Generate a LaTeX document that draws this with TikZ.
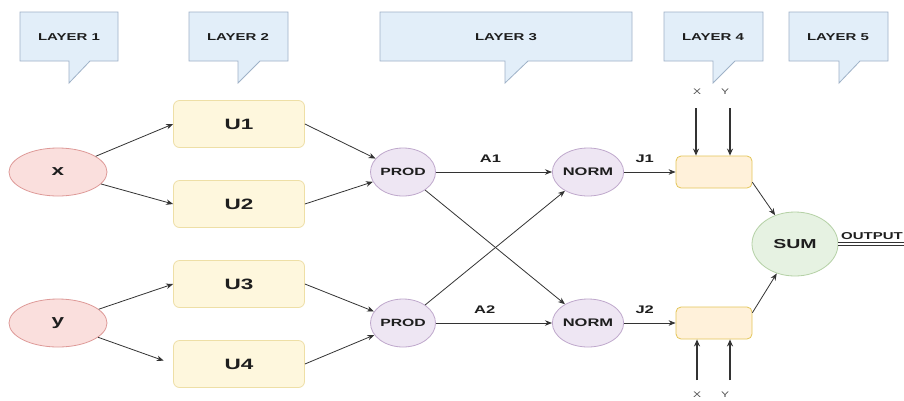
\documentclass[tikz,border=0pt]{standalone}
\usepackage{fontspec}
\setmainfont{Liberation Sans}
\newfontfamily\wb[FakeStretch=1.5]{Liberation Sans Bold}
\newfontfamily\wn[FakeStretch=1.5]{Liberation Sans}
\usetikzlibrary{shapes.geometric,arrows.meta}
\definecolor{cfill}{HTML}{E2EEF9}
\definecolor{cdraw}{HTML}{9FB2C8}
\definecolor{rfill}{HTML}{FADFDD}
\definecolor{rdraw}{HTML}{DE9A98}
\definecolor{yfill}{HTML}{FEF7DD}
\definecolor{ydraw}{HTML}{EEDFA6}
\definecolor{ofill}{HTML}{FFF1DA}
\definecolor{odraw}{HTML}{E3C659}
\definecolor{pfill}{HTML}{EEE6F3}
\definecolor{pdraw}{HTML}{BFA8CC}
\definecolor{gfill}{HTML}{E6F2E2}
\definecolor{gdraw}{HTML}{B5D1A6}
\definecolor{ink}{HTML}{1E1E1E}
\definecolor{lineink}{HTML}{333333}
\tikzset{
  callout/.style={fill=cfill,draw=cdraw,line width=0.8pt},
  calltext/.style={font=\wb\fontsize{10}{12}\selectfont,text=ink,inner sep=0pt},
  inell/.style={ellipse,fill=rfill,draw=rdraw,line width=0.8pt,minimum width=98pt,minimum height=48pt,inner sep=0pt,font=\wb\fontsize{15}{18}\selectfont,text=ink},
  ubox/.style={rectangle,rounded corners=6pt,fill=yfill,draw=ydraw,line width=0.8pt,minimum width=131pt,minimum height=47pt,inner sep=0pt,font=\wb\fontsize{15}{18}\selectfont,text=ink},
  pell/.style={ellipse,fill=pfill,draw=pdraw,line width=0.8pt,minimum width=65pt,minimum height=48pt,inner sep=0pt,font=\wb\fontsize{10.5}{12}\selectfont,text=ink},
  obox/.style={rectangle,rounded corners=5pt,fill=ofill,draw=odraw,line width=0.8pt,minimum width=76pt,minimum height=32pt,inner sep=0pt},
  sell/.style={ellipse,fill=gfill,draw=gdraw,line width=0.8pt,minimum width=86pt,minimum height=64pt,inner sep=0pt,font=\wb\fontsize{13}{15}\selectfont,text=ink},
  arr/.style={draw=lineink,line width=0.8pt,-{Stealth[length=7pt,width=5.5pt]}},
  varr/.style={draw=lineink,line width=1.2pt,-{Stealth[length=7pt,width=6pt]}},
  elab/.style={font=\wb\fontsize{11}{13}\selectfont,text=ink,inner sep=0pt},
  xylab/.style={font=\wn\fontsize{8}{10}\selectfont,text=ink!80,inner sep=0pt}
}
\begin{document}
\begin{tikzpicture}[x=1pt,y=-1pt]
\useasboundingbox[fill=white] (0,0) rectangle (904,400);
% callouts
\draw[callout] (20,12) -- (118,12) -- (118,61) -- (90,61) -- (69,83) -- (69,61) -- (20,61) -- cycle;
\node[calltext] (l1) at (69,37) {LAYER 1};
\draw[callout] (189,12) -- (288,12) -- (288,61) -- (260,61) -- (238,83) -- (238,61) -- (189,61) -- cycle;
\node[calltext] (l2) at (238,37) {LAYER 2};
\draw[callout] (380,12) -- (632,12) -- (632,61) -- (528,61) -- (505,83) -- (505,61) -- (380,61) -- cycle;
\node[calltext] (l3) at (506,37) {LAYER 3};
\draw[callout] (664,12) -- (763,12) -- (763,61) -- (735,61) -- (713,83) -- (713,61) -- (664,61) -- cycle;
\node[calltext] (l4) at (713,37) {LAYER 4};
\draw[callout] (789,12) -- (888,12) -- (888,61) -- (860,61) -- (839,83) -- (839,61) -- (789,61) -- cycle;
\node[calltext] (l5) at (838,37) {LAYER 5};
% nodes
\node[inell] (x) at (58,172) {x};
\node[inell] (y) at (58,323) {y};
\node[ubox] (u1) at (239,124) {U1};
\node[ubox] (u2) at (239,204) {U2};
\node[ubox] (u3) at (239,284) {U3};
\node[ubox] (u4) at (239,364) {U4};
\node[pell] (p1) at (403,172) {PROD};
\node[pell] (p2) at (403,323) {PROD};
\node[pell,font=\wb\fontsize{11}{13}\selectfont] (n1) at (588,172) {NORM};
\node[pell,font=\wb\fontsize{11}{13}\selectfont] (n2) at (588,323) {NORM};
\node[obox] (b1) at (714,172) {};
\node[obox] (b2) at (714,323) {};
\node[sell] (sum) at (795,244) {SUM};
% edges
\draw[arr] (x) -- (u1.west);
\draw[arr] (x) -- (u2.west);
\draw[arr] (y) -- (u3.west);
\draw[arr,shorten >=10pt] (y) -- (u4.west);
\draw[arr] (u1.east) -- (p1);
\draw[arr] (u2.east) -- (p1);
\draw[arr] (u3.east) -- (p2);
\draw[arr] (u4.east) -- (p2);
\draw[arr] (p1) -- node[elab,above=9pt,pos=0.47] (a1) {A1} (n1);
\draw[arr] (p2) -- node[elab,above=9pt,pos=0.42] (a2) {A2} (n2);
\draw[arr] (p1) -- (n2);
\draw[arr] (p2) -- (n1);
\draw[arr] (n1) -- node[elab,above=9pt,pos=0.4] (j1) {J1} (b1);
\draw[arr] (n2) -- node[elab,above=9pt,pos=0.4] (j2) {J2} (b2);
\draw[arr] (b1.-15) -- (sum);
\draw[arr] (b2.15) -- (sum);
% X Y inputs
\node[xylab] (xt) at (697,92) {X};
\node[xylab] (yt) at (725,92) {Y};
\coordinate (xta) at (696,108);
\coordinate (yta) at (730,108);
\draw[varr] (xta) -- (xta |- b1.north);
\draw[varr] (yta) -- (yta |- b1.north);
\node[xylab] (xb) at (697,395) {X};
\node[xylab] (yb) at (725,395) {Y};
\coordinate (xba) at (697,380);
\coordinate (yba) at (730,380);
\draw[varr] (xba) -- (xba |- b2.south);
\draw[varr] (yba) -- (yba |- b2.south);
% output
\coordinate (oend) at (904,244);
\draw[lineink,line width=0.7pt,double=white,double distance=2.2pt] (sum.east) -- (oend);
\node[font=\wb\fontsize{10}{12}\selectfont,text=ink,inner sep=0pt,anchor=south] (out) at (872,240) {OUTPUT};
\end{tikzpicture}
\end{document}
